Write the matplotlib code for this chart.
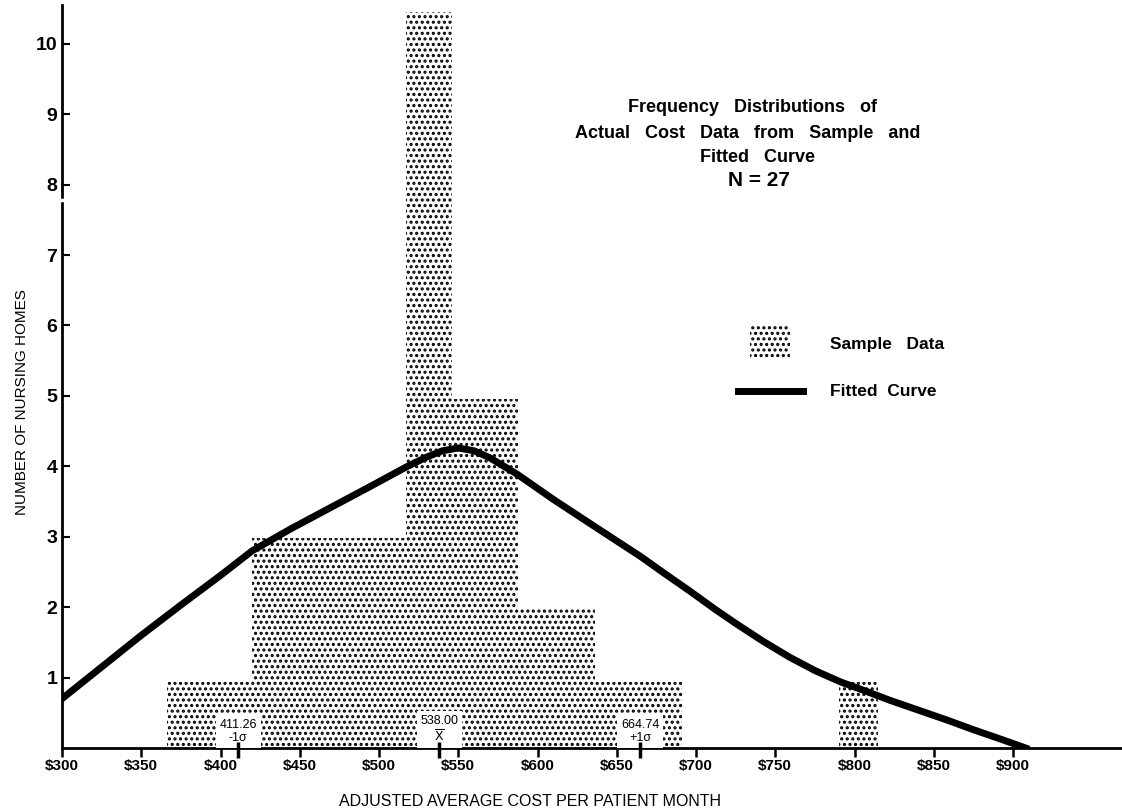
import matplotlib.pyplot as plt
from matplotlib.patches import Rectangle
from matplotlib.lines import Line2D

plt.rcParams['font.family'] = ['Liberation Sans', 'DejaVu Sans']
plt.rcParams['hatch.linewidth'] = 1.5

# Sample data blocks: left edge, right edge, height
bin_left = [366, 420, 517, 546, 588, 636, 790]
bin_right = [420, 517, 546, 588, 636, 691, 815]
bin_height = [0.94, 2.98, 10.45, 4.95, 1.99, 0.94, 0.94]

# Fitted curve
curve_x = [300, 325, 350, 375, 400, 420, 445, 470, 495, 518, 530, 540, 550,
           560, 570, 587, 610, 633, 650, 665, 680, 696, 712, 725, 742, 759,
           775, 791, 808, 822, 840, 858, 875, 893, 908]
curve_y = [0.70, 1.15, 1.60, 2.03, 2.45, 2.80, 3.12, 3.42, 3.72, 4.00, 4.13,
           4.22, 4.26, 4.22, 4.12, 3.89, 3.53, 3.19, 2.94, 2.72, 2.48, 2.23,
           1.97, 1.77, 1.52, 1.29, 1.10, 0.94, 0.80, 0.68, 0.54, 0.40, 0.26,
           0.12, 0.0]

# mean and +/- one sigma
marks = [411.26, 538.00, 664.74]
mark_labels = ['411.26\n-1σ', '538.00\n$\\overline{\\mathrm{X}}$', '664.74\n+1σ']

xticks = list(range(300, 901, 50))
xtick_labels = ['\\$%d' % v for v in xticks]
yticks = list(range(1, 11))

fig = plt.figure(figsize=(11.22, 8.09), dpi=100)
ax = fig.add_axes([62/1122, 61/809, 1060/1122, 743/809])

widths = [r - l for l, r in zip(bin_left, bin_right)]
ax.bar(bin_left, bin_height, width=widths, align='edge', facecolor='white',
       edgecolor='black', linewidth=0, hatch='...', zorder=1)

ax.plot(curve_x, curve_y, color='black', lw=5, zorder=4)

for m, lab in zip(marks, mark_labels):
    ax.text(m, 0.05, lab, ha='center', va='bottom', fontsize=9,
            linespacing=1.2, zorder=5,
            bbox=dict(facecolor='white', edgecolor='none', pad=2.5))
ax.vlines(marks, -0.14, 0.08, color='black', lw=2.5, clip_on=False, zorder=6)

ax.set_xlim(300, 300 + 1060/1.585)
ax.set_ylim(0, 10.55)
ax.set_xticks(xticks)
ax.set_xticklabels(xtick_labels, fontsize=11, fontweight='bold')
ax.set_yticks(yticks)
ax.set_yticklabels([str(v) for v in yticks], fontsize=14, fontweight='bold')
ax.tick_params(axis='x', direction='out', length=6.5, width=1.8, pad=1.5)
ax.tick_params(axis='y', direction='in', length=6, width=1.5, pad=3.5)

for s in ['top', 'right']:
    ax.spines[s].set_visible(False)
for s in ['left', 'bottom']:
    ax.spines[s].set_linewidth(2)

# little break in the y axis
ax.axhline(7.78, xmin=-0.004, xmax=0.004, color='white', lw=2.5, clip_on=False, zorder=7)

# legend
ax.add_patch(Rectangle((0.649, 0.525), 0.0377, 0.043, transform=ax.transAxes,
                       facecolor='white', edgecolor='black', lw=0, hatch='...'))
ax.add_line(Line2D([0.6377, 0.699], [0.4805, 0.4805], transform=ax.transAxes,
                   lw=5, color='black'))
fig.text(830/1122, 1 - 345/809, 'Sample   Data', fontsize=12.5, fontweight='bold',
         ha='left', va='center')
fig.text(830/1122, 1 - 391/809, 'Fitted  Curve', fontsize=12.5, fontweight='bold',
         ha='left', va='center')

# title block
fig.text(752/1122, 1 - 108/809, 'Frequency   Distributions   of', fontsize=13,
         fontweight='bold', ha='center', va='center')
fig.text(748/1122, 1 - 133/809, 'Actual   Cost   Data   from   Sample   and', fontsize=13,
         fontweight='bold', ha='center', va='center')
fig.text(757/1122, 1 - 157/809, 'Fitted   Curve', fontsize=13,
         fontweight='bold', ha='center', va='center')
fig.text(759/1122, 1 - 180/809, 'N = 27', fontsize=15, fontweight='bold',
         ha='center', va='center')

fig.text(22/1122, 1 - 402/809, 'NUMBER OF NURSING HOMES', rotation=90,
         fontsize=11, ha='center', va='center')
fig.text(530/1122, 1 - 801/809, 'ADJUSTED AVERAGE COST PER PATIENT MONTH',
         fontsize=11.5, ha='center', va='center')

fig.savefig('out.png', dpi=100)
